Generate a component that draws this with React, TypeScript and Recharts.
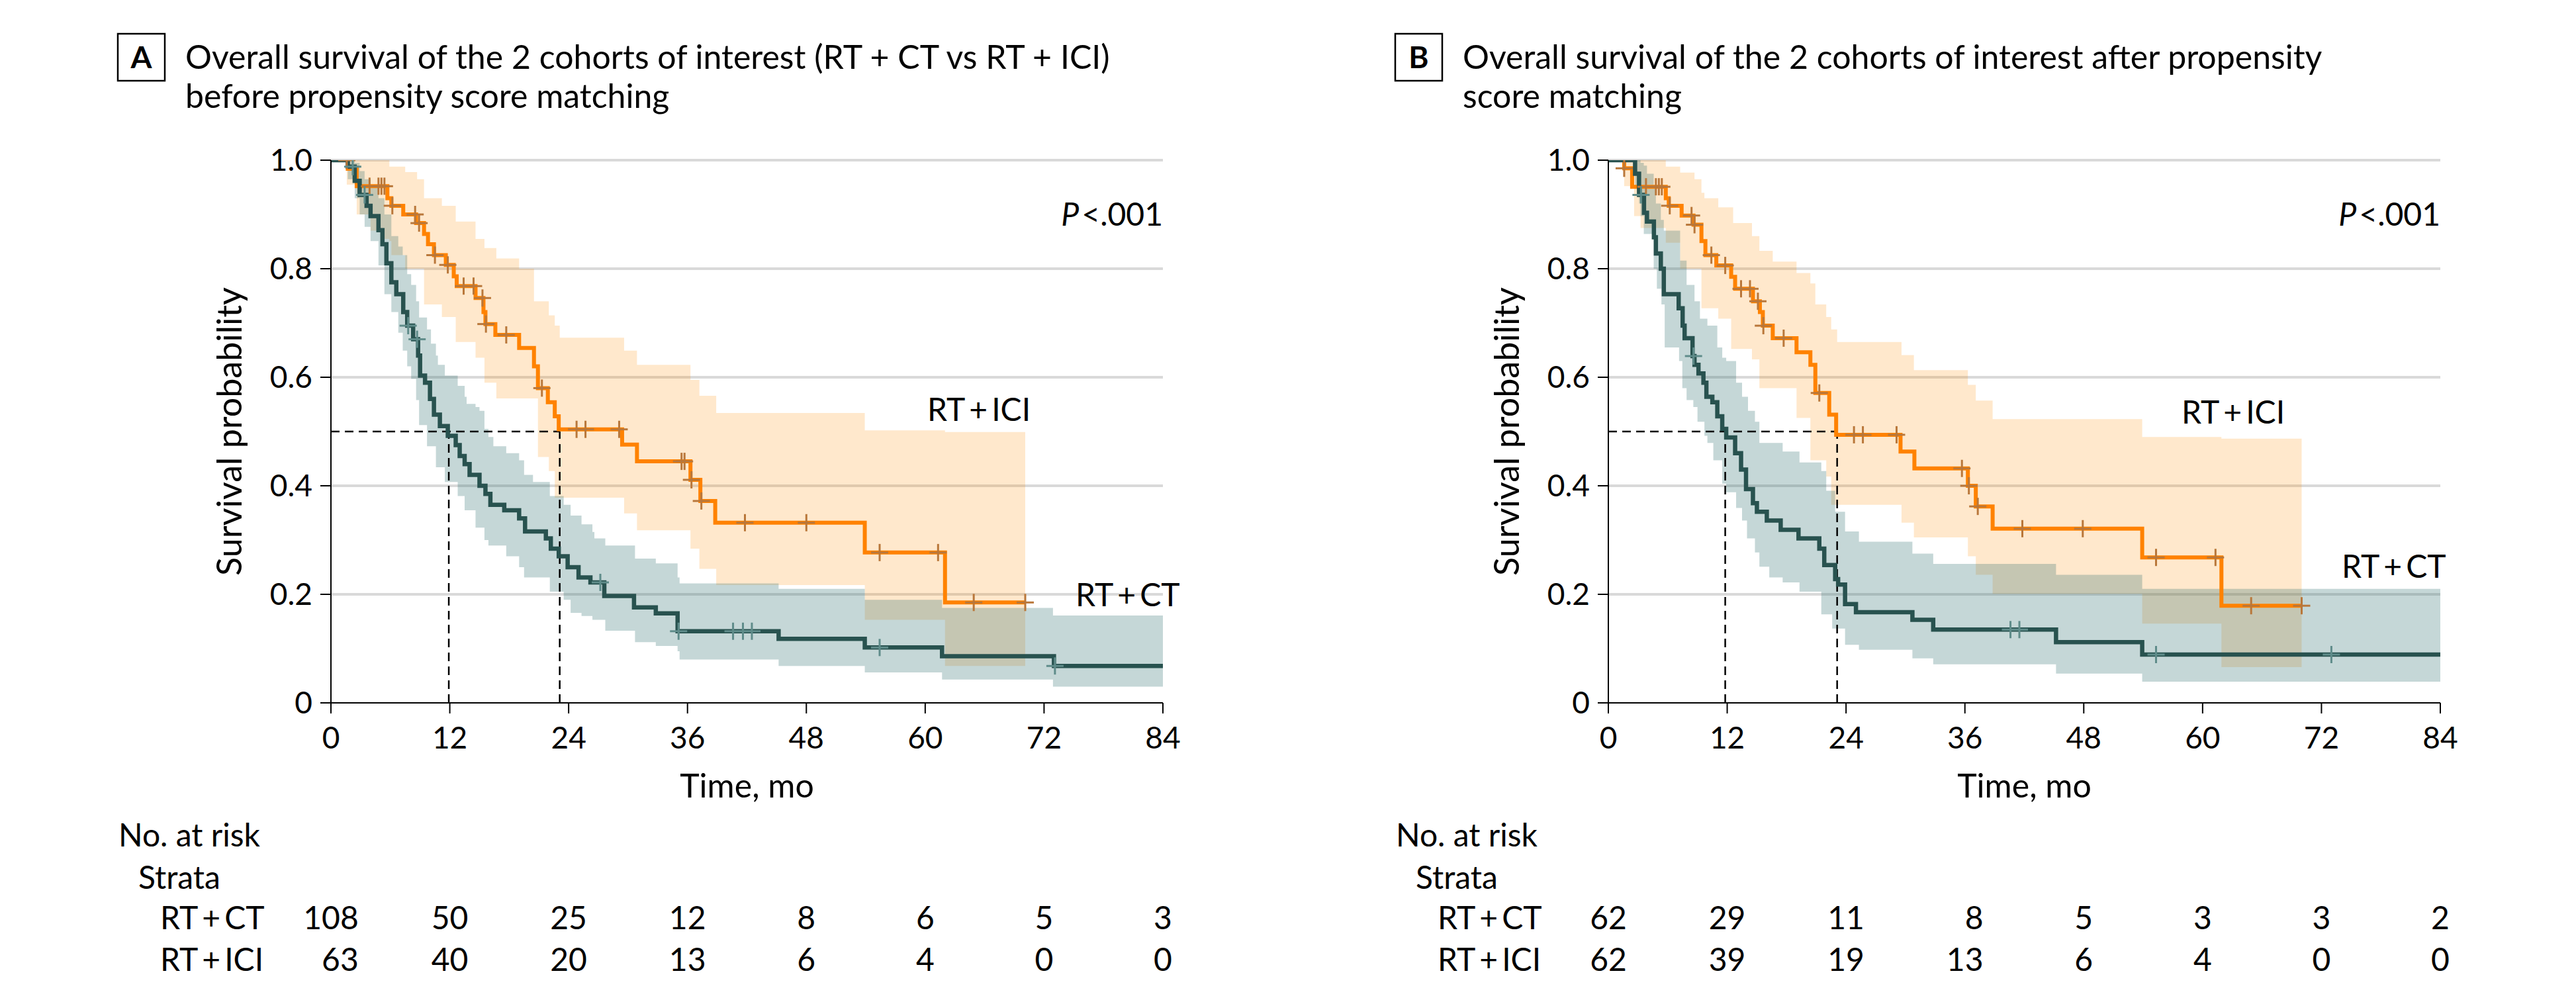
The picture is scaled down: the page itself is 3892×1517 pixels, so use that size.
import {
  ComposedChart,
  Line,
  Area,
  Scatter,
  XAxis,
  YAxis,
  CartesianGrid,
  ReferenceLine,
} from 'recharts';

type Step = [number, number];
type Band = [number, number, number];

const FONT = 'Lato, "Noto Sans", sans-serif';
const TEAL = '#28524f';
const TEAL_BAND = '#2f6f6f';
const TEAL_CENSOR = '#5f8c8a';
const ORANGE = '#ff8200';
const ORANGE_BAND = '#ff8a00';
const ORANGE_CENSOR = '#b9773a';
const THIN = '\u2009';

const MONTH_TICKS = [0, 12, 24, 36, 48, 60, 72, 84];
const SURV_TICKS = [0, 0.2, 0.4, 0.6, 0.8, 1.0];

// ---- Panel A: before propensity score matching ----
const A_CT_CURVE: Step[] = [
  [0, 1], [1.7, 0.988], [2.4, 0.962], [2.9, 0.936], [3.6, 0.916], [4.0, 0.897], [4.8, 0.871],
  [5.2, 0.845], [5.6, 0.81], [6.1, 0.775], [6.6, 0.753], [7.3, 0.72], [7.7, 0.695], [8.3, 0.67],
  [8.8, 0.64], [9.0, 0.603], [9.5, 0.59], [10.0, 0.56], [10.4, 0.531], [11.0, 0.51], [11.8, 0.492],
  [12.6, 0.475], [13.0, 0.455], [13.5, 0.44], [14.0, 0.42], [15.0, 0.4], [15.6, 0.385], [16.1, 0.365],
  [17.5, 0.355], [19.0, 0.34], [19.6, 0.316], [21.7, 0.303], [22.2, 0.284], [23.0, 0.27], [23.9, 0.25],
  [25.0, 0.231], [26.2, 0.222], [27.6, 0.197], [30.6, 0.176], [32.8, 0.165], [35.0, 0.132],
  [45.2, 0.118], [53.9, 0.102], [61.7, 0.086], [73.0, 0.068], [84, 0.068],
];
const A_ICI_CURVE: Step[] = [
  [0, 1], [1.7, 0.984], [2.6, 0.952], [5.7, 0.93], [6.1, 0.916], [7.3, 0.9], [8.6, 0.884], [9.4, 0.864],
  [9.8, 0.845], [10.4, 0.825], [11.6, 0.807], [12.4, 0.786], [12.7, 0.768], [14.6, 0.746], [15.4, 0.72],
  [15.6, 0.698], [16.6, 0.678], [19.0, 0.654], [20.5, 0.62], [20.9, 0.58], [21.9, 0.554], [22.6, 0.528],
  [23.0, 0.504], [29.4, 0.476], [30.9, 0.445], [36.3, 0.411], [37.3, 0.372], [38.8, 0.332],
  [53.9, 0.277], [62.0, 0.185], [70.1, 0.185],
];
const A_CT_BAND: Band[] = [
  [0, 1, 1], [1.7, 0.965, 1], [2.4, 0.93, 0.995], [2.9, 0.9, 0.98], [3.4, 0.877, 0.965], [4.0, 0.851, 0.95],
  [4.8, 0.806, 0.93], [5.4, 0.753, 0.9], [6.1, 0.72, 0.86], [6.8, 0.682, 0.841], [7.25, 0.649, 0.825],
  [7.7, 0.62, 0.79], [8.1, 0.597, 0.77], [8.6, 0.558, 0.74], [8.9, 0.512, 0.71], [9.7, 0.473, 0.688],
  [10.1, 0.473, 0.662], [10.6, 0.434, 0.64], [10.8, 0.434, 0.623], [11.5, 0.407, 0.603], [12.8, 0.381, 0.584],
  [13.5, 0.355, 0.564], [13.7, 0.355, 0.551], [14.6, 0.323, 0.545], [15.0, 0.323, 0.538], [15.5, 0.3, 0.505],
  [15.9, 0.29, 0.49], [16.4, 0.29, 0.473], [17.7, 0.27, 0.46], [19.0, 0.25, 0.447], [19.5, 0.231, 0.42],
  [20.4, 0.231, 0.407], [22.1, 0.205, 0.381], [23.5, 0.19, 0.365], [24.2, 0.166, 0.345], [25.3, 0.16, 0.329],
  [26.4, 0.153, 0.315], [26.6, 0.153, 0.303], [27.7, 0.133, 0.29], [30.7, 0.112, 0.266], [32.8, 0.105, 0.257],
  [35.0, 0.095, 0.231], [35.2, 0.08, 0.22], [45.2, 0.068, 0.21], [53.9, 0.056, 0.19], [61.7, 0.043, 0.175],
  [72.9, 0.03, 0.161], [84, 0.03, 0.161],
];
const A_ICI_BAND: Band[] = [
  [0, 1, 1], [1.6, 0.955, 1], [2.6, 0.9, 1], [4.0, 0.87, 1], [5.0, 0.855, 1], [5.9, 0.851, 0.988],
  [6.1, 0.825, 0.988], [7.5, 0.8, 0.978], [8.7, 0.8, 0.965], [9.4, 0.734, 0.93], [11.2, 0.711, 0.916],
  [12.6, 0.665, 0.887], [14.6, 0.636, 0.855], [15.5, 0.59, 0.838], [16.7, 0.561, 0.819], [19.0, 0.561, 0.8],
  [20.5, 0.561, 0.74], [20.9, 0.453, 0.74], [22.0, 0.427, 0.714], [22.6, 0.378, 0.695], [23.1, 0.378, 0.673],
  [29.6, 0.349, 0.649], [30.9, 0.318, 0.623], [36.3, 0.284, 0.595], [37.2, 0.247, 0.566], [38.9, 0.217, 0.534],
  [53.9, 0.153, 0.502], [62.0, 0.068, 0.499], [70.1, 0.068, 0.499],
];
const A_CT_CENSOR = [2.2, 3.4, 7.8, 8.7, 27.2, 35.1, 40.6, 41.6, 42.5, 55.4, 73.1];
const A_ICI_CENSOR = [
  1.6, 3.9, 4.8, 5.1, 5.4, 6.2, 8.5, 8.9, 10.5, 11.8, 13.4, 14.4, 15.3, 15.65, 17.7, 21.3,
  24.8, 25.7, 29.1, 35.4, 35.7, 36.4, 37.4, 41.8, 48.0, 55.4, 61.3, 64.9, 70.1,
];
const A_MEDIANS = [11.9, 23.1];
const A_RISK_CT = [108, 50, 25, 12, 8, 6, 5, 3];
const A_RISK_ICI = [63, 40, 20, 13, 6, 4, 0, 0];

// ---- Panel B: after propensity score matching ----
const B_CT_CURVE: Step[] = [
  [0, 1], [2.7, 0.975], [3.1, 0.936], [3.6, 0.903], [3.9, 0.887], [4.6, 0.858], [4.8, 0.828], [5.3, 0.8],
  [5.6, 0.753], [7.1, 0.727], [7.5, 0.695], [7.7, 0.672], [8.5, 0.639], [8.7, 0.623], [9.1, 0.607],
  [9.6, 0.59], [9.9, 0.564], [10.5, 0.554], [11.0, 0.528], [11.5, 0.505], [11.9, 0.489], [12.8, 0.46],
  [13.4, 0.43], [13.9, 0.394], [14.6, 0.368], [15.0, 0.352], [16.0, 0.336], [17.4, 0.319], [19.2, 0.303],
  [21.3, 0.284], [21.8, 0.254], [22.9, 0.228], [23.2, 0.218], [23.9, 0.182], [25.0, 0.167], [30.7, 0.153],
  [32.8, 0.135], [45.2, 0.112], [53.9, 0.089], [84, 0.089],
];
const B_ICI_CURVE: Step[] = [
  [0, 1], [1.6, 0.985], [2.4, 0.951], [5.8, 0.93], [6.1, 0.916], [7.4, 0.898], [8.6, 0.881], [9.4, 0.851],
  [9.8, 0.825], [10.9, 0.806], [12.4, 0.785], [12.8, 0.763], [14.6, 0.74], [15.3, 0.72], [15.6, 0.695],
  [16.6, 0.672], [19.0, 0.646], [20.4, 0.623], [20.9, 0.571], [22.3, 0.531], [23.0, 0.494], [29.5, 0.463],
  [30.9, 0.432], [36.3, 0.4], [37.1, 0.362], [38.8, 0.321], [53.9, 0.268], [61.9, 0.179], [70.0, 0.179],
];
const B_CT_BAND: Band[] = [
  [0, 1, 1], [2.7, 0.95, 1], [3.1, 0.92, 1], [3.25, 0.897, 0.995], [3.58, 0.864, 0.99], [3.9, 0.864, 0.975],
  [4.58, 0.8, 0.95], [4.8, 0.8, 0.92], [4.9, 0.763, 0.92], [5.3, 0.763, 0.89], [5.36, 0.734, 0.89],
  [5.6, 0.734, 0.87], [5.69, 0.655, 0.87], [7.14, 0.63, 0.87], [7.25, 0.63, 0.815], [7.47, 0.58, 0.815],
  [7.9, 0.558, 0.77], [8.58, 0.545, 0.77], [8.7, 0.545, 0.74], [9.0, 0.518, 0.74], [9.25, 0.518, 0.708],
  [9.7, 0.492, 0.708], [10.0, 0.479, 0.695], [10.6, 0.447, 0.695], [11.0, 0.447, 0.655], [11.5, 0.404, 0.636],
  [11.9, 0.388, 0.63], [12.9, 0.359, 0.59], [13.5, 0.336, 0.564], [14.0, 0.303, 0.564], [14.1, 0.303, 0.538],
  [14.8, 0.277, 0.518], [15.25, 0.251, 0.479], [16.25, 0.231, 0.479], [17.6, 0.222, 0.463], [19.3, 0.205, 0.443],
  [21.5, 0.163, 0.427], [22.0, 0.163, 0.391], [22.6, 0.137, 0.391], [22.9, 0.137, 0.352], [23.9, 0.107, 0.316],
  [25.3, 0.098, 0.297], [30.7, 0.082, 0.275], [32.8, 0.071, 0.256], [45.2, 0.054, 0.236], [53.9, 0.039, 0.21],
  [84, 0.039, 0.21],
];
const B_ICI_BAND: Band[] = [
  [0, 1, 1], [1.6, 0.952, 1], [2.6, 0.897, 1], [3.25, 0.875, 1], [5.8, 0.848, 0.988], [7.25, 0.8, 0.977],
  [8.7, 0.8, 0.965], [9.4, 0.727, 0.94], [9.7, 0.727, 0.93], [11.1, 0.708, 0.913], [12.4, 0.652, 0.913],
  [12.6, 0.652, 0.884], [14.5, 0.633, 0.86], [15.25, 0.58, 0.833], [16.6, 0.58, 0.813], [19.0, 0.525, 0.792],
  [20.4, 0.447, 0.773], [20.9, 0.447, 0.734], [22.0, 0.417, 0.711], [22.5, 0.365, 0.688], [23.1, 0.365, 0.665],
  [29.6, 0.332, 0.641], [30.85, 0.305, 0.613], [36.3, 0.27, 0.586], [37.1, 0.236, 0.557], [38.8, 0.201, 0.523],
  [53.9, 0.146, 0.49], [61.9, 0.066, 0.487], [70.0, 0.066, 0.487],
];
const B_CT_CENSOR = [3.3, 8.6, 40.6, 41.5, 55.3, 73.0];
const B_ICI_CENSOR = [
  1.6, 3.8, 4.8, 5.1, 5.4, 6.2, 8.4, 8.7, 10.4, 11.8, 13.4, 14.3, 15.1, 15.65, 17.7, 21.3,
  24.8, 25.7, 29.1, 35.7, 36.4, 37.3, 41.8, 47.9, 55.3, 61.3, 64.9, 70.0,
];
const B_MEDIANS = [11.8, 23.1];
const B_RISK_CT = [62, 29, 11, 8, 5, 3, 3, 2];
const B_RISK_ICI = [62, 39, 19, 13, 6, 4, 0, 0];

// helpers
const curveRows = (steps: Step[]) => steps.map(([t, s]) => ({ t, s }));
const bandRows = (band: Band[]) => band.map(([t, lo, hi]) => ({ t, band: [lo, hi] }));
const survivalAt = (steps: Step[], time: number) => {
  let v = steps[0][1];
  for (const [t, s] of steps) {
    if (t <= time) v = s;
    else break;
  }
  return v;
};
const censorRows = (steps: Step[], times: number[]) => times.map(t => ({ t, s: survivalAt(steps, t) }));

const crossShape = (color: string) => (props: any) => {
  const { cx, cy } = props;
  if (cx == null || cy == null) return <g />;
  return (
    <g stroke={color} strokeWidth={3}>
      <line x1={cx - 13} x2={cx + 13} y1={cy} y2={cy} />
      <line x1={cx} x2={cx} y1={cy - 13} y2={cy + 13} />
    </g>
  );
};

const axisStroke = { stroke: '#000', strokeWidth: 2 };

interface PanelProps {
  ct: Step[];
  ici: Step[];
  ctBand: Band[];
  iciBand: Band[];
  ctCensor: number[];
  iciCensor: number[];
  medians: number[];
}

function KMPanel({ ct, ici, ctBand, iciBand, ctCensor, iciCensor, medians }: PanelProps) {
  const dash = { stroke: '#000', strokeWidth: 2.5, strokeDasharray: '13 8' };
  return (
    <ComposedChart width={1800} height={1200} margin={{ top: 242, right: 43, bottom: 38, left: 300 }}>
      <CartesianGrid
        vertical={false}
        horizontalValues={[0.2, 0.4, 0.6, 0.8, 1]}
        stroke="#d9d9d9"
        strokeWidth={4}
      />
      <XAxis
        dataKey="t"
        type="number"
        domain={[0, 84]}
        ticks={MONTH_TICKS}
        interval={0}
        allowDataOverflow
        height={100}
        tickSize={16}
        tickMargin={20}
        axisLine={axisStroke}
        tickLine={axisStroke}
        tick={{ fill: '#000', fontSize: 46, fontFamily: FONT }}
      />
      <YAxis
        type="number"
        domain={[0, 1]}
        ticks={SURV_TICKS}
        interval={0}
        allowDataOverflow
        width={200}
        tickSize={16}
        tickMargin={12}
        axisLine={axisStroke}
        tickLine={axisStroke}
        tick={{ fill: '#000', fontSize: 46, fontFamily: FONT }}
        tickFormatter={(v: number) => (v === 0 ? '0' : v.toFixed(1))}
      />
      <Area
        data={bandRows(iciBand)}
        dataKey="band"
        type="stepAfter"
        stroke="none"
        fill={ORANGE_BAND}
        fillOpacity={0.2}
        activeDot={false}
        isAnimationActive={false}
      />
      <Area
        data={bandRows(ctBand)}
        dataKey="band"
        type="stepAfter"
        stroke="none"
        fill={TEAL_BAND}
        fillOpacity={0.28}
        activeDot={false}
        isAnimationActive={false}
      />
      <ReferenceLine segment={[{ x: 0, y: 0.5 }, { x: medians[1], y: 0.5 }]} {...dash} />
      <ReferenceLine segment={[{ x: medians[0], y: 0 }, { x: medians[0], y: 0.5 }]} {...dash} />
      <ReferenceLine segment={[{ x: medians[1], y: 0 }, { x: medians[1], y: 0.5 }]} {...dash} />
      <Line
        data={curveRows(ici)}
        dataKey="s"
        type="stepAfter"
        stroke={ORANGE}
        strokeWidth={6}
        dot={false}
        activeDot={false}
        isAnimationActive={false}
      />
      <Line
        data={curveRows(ct)}
        dataKey="s"
        type="stepAfter"
        stroke={TEAL}
        strokeWidth={6.5}
        dot={false}
        activeDot={false}
        isAnimationActive={false}
      />
      <Scatter data={censorRows(ici, iciCensor)} dataKey="s" shape={crossShape(ORANGE_CENSOR)} isAnimationActive={false} />
      <Scatter data={censorRows(ct, ctCensor)} dataKey="s" shape={crossShape(TEAL_CENSOR)} isAnimationActive={false} />
    </ComposedChart>
  );
}

const RISK_FONT = 48;
const DIGIT_HALF = RISK_FONT * 0.29;

const RiskNumber = (props: any) => {
  const { cx, cy, payload } = props;
  if (cx == null || cy == null) return <g />;
  return (
    <text
      x={cx + payload.width * DIGIT_HALF}
      y={cy}
      textAnchor="end"
      fontSize={RISK_FONT}
      fontFamily={FONT}
      fill="#000"
    >
      {payload.n}
    </text>
  );
};

function RiskTable({ ct, ici }: { ct: number[]; ici: number[] }) {
  const widths = MONTH_TICKS.map((_, i) => Math.max(String(ct[i]).length, String(ici[i]).length));
  const rows = [
    ...MONTH_TICKS.map((t, i) => ({ t, row: 1, n: ct[i], width: widths[i] })),
    ...MONTH_TICKS.map((t, i) => ({ t, row: 0, n: ici[i], width: widths[i] })),
  ];
  return (
    <ComposedChart width={1800} height={180} margin={{ top: 40, right: 43, bottom: 14, left: 500 }}>
      <XAxis dataKey="t" type="number" domain={[0, 84]} hide />
      <YAxis type="number" domain={[-0.5, 1.5]} hide />
      <Scatter data={rows} dataKey="row" shape={RiskNumber} isAnimationActive={false} />
    </ComposedChart>
  );
}

interface TextLayer {
  dx: number;
  letter: string;
  title: string[];
  iciLabel: [number, number];
  ctLabel: [number, number];
}

function PanelText({ dx, letter, title, iciLabel, ctLabel }: TextLayer) {
  const t = { fontFamily: FONT, fill: '#000' };
  const ctName = `RT${THIN}+${THIN}CT`;
  const iciName = `RT${THIN}+${THIN}ICI`;
  return (
    <g>
      <rect x={178 + dx} y={51} width={71} height={71} fill="none" stroke="#000" strokeWidth={2.5} />
      <text x={213.5 + dx} y={103} textAnchor="middle" fontSize={46} fontWeight={700} {...t}>
        {letter}
      </text>
      <text x={280 + dx} y={104} fontSize={50} {...t}>{title[0]}</text>
      <text x={280 + dx} y={163} fontSize={50} {...t}>{title[1]}</text>
      <text transform={`translate(${365 + dx},652) rotate(-90)`} textAnchor="middle" fontSize={52} {...t}>
        Survival probability
      </text>
      <text x={1128.5 + dx} y={1205} textAnchor="middle" fontSize={50} {...t}>Time, mo</text>
      <text x={1757 + dx} y={341} textAnchor="end" fontSize={48} {...t}>
        <tspan fontStyle="italic">P</tspan>
        <tspan dx={4}>&lt;.001</tspan>
      </text>
      <text x={iciLabel[0] + dx} y={iciLabel[1]} fontSize={48} {...t}>{iciName}</text>
      <text x={ctLabel[0] + dx} y={ctLabel[1]} fontSize={48} {...t}>{ctName}</text>
      <text x={179 + dx} y={1279} fontSize={48} {...t}>No. at risk</text>
      <text x={209 + dx} y={1343} fontSize={48} {...t}>Strata</text>
      <text x={242 + dx} y={1404} fontSize={48} {...t}>{ctName}</text>
      <text x={242 + dx} y={1467} fontSize={48} {...t}>{iciName}</text>
    </g>
  );
}

export default function App() {
  return (
    <div style={{ position: 'absolute', left: 0, top: 0, width: 3892, height: 1517, background: '#fff' }}>
      <div style={{ position: 'absolute', left: 0, top: 0 }}>
        <KMPanel
          ct={A_CT_CURVE}
          ici={A_ICI_CURVE}
          ctBand={A_CT_BAND}
          iciBand={A_ICI_BAND}
          ctCensor={A_CT_CENSOR}
          iciCensor={A_ICI_CENSOR}
          medians={A_MEDIANS}
        />
      </div>
      <div style={{ position: 'absolute', left: 1930, top: 0 }}>
        <KMPanel
          ct={B_CT_CURVE}
          ici={B_ICI_CURVE}
          ctBand={B_CT_BAND}
          iciBand={B_ICI_BAND}
          ctCensor={B_CT_CENSOR}
          iciCensor={B_ICI_CENSOR}
          medians={B_MEDIANS}
        />
      </div>
      <div style={{ position: 'absolute', left: 0, top: 1332 }}>
        <RiskTable ct={A_RISK_CT} ici={A_RISK_ICI} />
      </div>
      <div style={{ position: 'absolute', left: 1930, top: 1332 }}>
        <RiskTable ct={B_RISK_CT} ici={B_RISK_ICI} />
      </div>
      <svg
        width={3892}
        height={1517}
        style={{ position: 'absolute', left: 0, top: 0, pointerEvents: 'none' }}
      >
        <PanelText
          dx={0}
          letter="A"
          title={['Overall survival of the 2 cohorts of interest (RT + CT vs RT + ICI)', 'before propensity score matching']}
          iciLabel={[1401, 636]}
          ctLabel={[1625, 916]}
        />
        <PanelText
          dx={1930}
          letter="B"
          title={['Overall survival of the 2 cohorts of interest after propensity', 'score matching']}
          iciLabel={[1366, 640]}
          ctLabel={[1608, 873]}
        />
      </svg>
    </div>
  );
}
